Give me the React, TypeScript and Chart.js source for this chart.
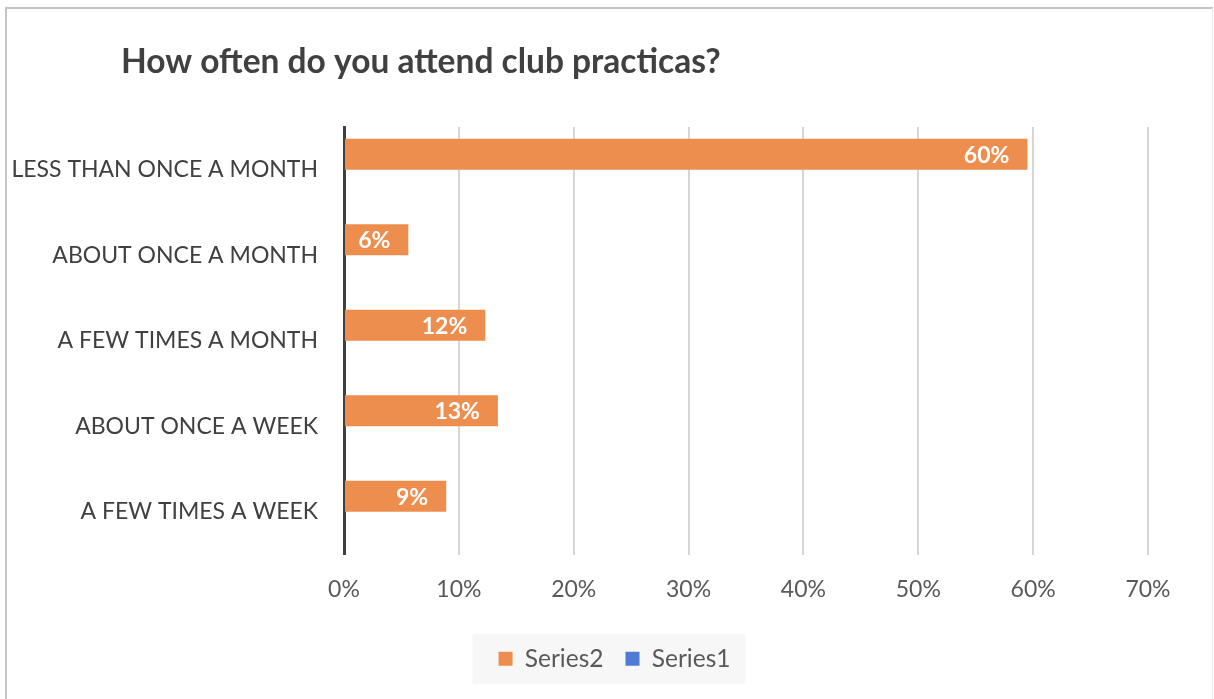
import React, { useEffect, useRef } from "react";
import { Chart, registerables } from "chart.js";

Chart.register(...registerables);

const TITLE = "How often do you attend club practicas?";
const categories = [
  "LESS THAN ONCE A MONTH",
  "ABOUT ONCE A MONTH",
  "A FEW TIMES A MONTH",
  "ABOUT ONCE A WEEK",
  "A FEW TIMES A WEEK",
];
const series2Values = [59.5, 5.6, 12.3, 13.4, 8.9];
const series1Values: (number | null)[] = [null, null, null, null, null];
const xTicksMax = 70;
const xTickStep = 10;

const FONT = "Lato, 'Open Sans', sans-serif";

const titlePlugin = {
  id: "leftTitle",
  afterDraw(chart: any) {
    const ctx = chart.ctx;
    ctx.save();
    ctx.font = `bold 33.5px ${FONT}`;
    ctx.fillStyle = "#404040";
    ctx.textAlign = "left";
    ctx.textBaseline = "middle";
    ctx.fillText(TITLE, 114, 53);
    ctx.restore();
  },
};

const legendShiftPlugin = {
  id: "legendShift",
  afterLayout(chart: any) {
    const lg = chart.legend;
    if (!lg) return;
    lg.left += 37;
    lg.right += 37;
  },
};

const legendBgPlugin = {
  id: "legendBg",
  beforeDraw(chart: any) {
    const lg = chart.legend;
    if (!lg || !lg.legendHitBoxes || !lg.legendHitBoxes.length) return;
    const boxes = lg.legendHitBoxes;
    const left = Math.min(...boxes.map((b: any) => b.left)) - 26;
    const right = Math.max(...boxes.map((b: any) => b.left + b.width)) + 15;
    const cy = boxes[0].top + boxes[0].height / 2;
    const ctx = chart.ctx;
    ctx.save();
    ctx.fillStyle = "#F7F7F7";
    ctx.fillRect(left, cy - 25, right - left, 50);
    ctx.restore();
  },
};

const dataLabelPlugin = {
  id: "barLabels",
  afterDatasetsDraw(chart: any) {
    const meta = chart.getDatasetMeta(0);
    const ctx = chart.ctx;
    ctx.save();
    ctx.font = `bold 23px ${FONT}`;
    ctx.fillStyle = "#FFFFFF";
    ctx.textAlign = "right";
    ctx.textBaseline = "middle";
    meta.data.forEach((bar: any, i: number) => {
      const v = series2Values[i];
      ctx.fillText(`${Math.round(v)}%`, bar.x - 18, bar.y + 1);
    });
    ctx.restore();
  },
};

export default function App() {
  const ref = useRef<HTMLCanvasElement | null>(null);

  useEffect(() => {
    if (!ref.current) return;
    const chart = new Chart(ref.current, {
      type: "bar",
      data: {
        labels: categories,
        datasets: [
          {
            label: "Series2",
            data: series2Values,
            backgroundColor: "#EE8E4E",
            borderWidth: 0,
          },
          {
            label: "Series1",
            data: series1Values,
            backgroundColor: "#4F7BD2",
            borderWidth: 0,
          },
        ],
      },
      options: {
        indexAxis: "y",
        animation: false,
        responsive: true,
        maintainAspectRatio: false,
        categoryPercentage: 0.724,
        barPercentage: 1,
        layout: { padding: { top: 118, right: 64, left: 0, bottom: 18 } },
        scales: {
          x: {
            min: 0,
            max: xTicksMax,
            ticks: {
              stepSize: xTickStep,
              callback: (v: any) => `${v}%`,
              color: "#595959",
              font: { family: FONT, size: 23 },
              padding: 21,
            },
            grid: { color: "#D6D6D6", lineWidth: 2, drawTicks: false },
            border: { display: false },
            afterFit: (s: any) => {
              s.height = 70;
            },
          },
          y: {
            ticks: {
              color: "#404040",
              font: { family: FONT, size: 23 },
              padding: 26,
            },
            grid: { display: false, drawTicks: false },
            border: { display: true, color: "#404040", width: 3 },
            afterFit: (s: any) => {
              s.width = 337;
            },
          },
        },
        plugins: {
          title: { display: false },
          tooltip: { enabled: false },
          legend: {
            position: "bottom",
            labels: {
              color: "#595959",
              font: { family: FONT, size: 24.5 },
              boxWidth: 14,
              boxHeight: 14,
              padding: 22,
            },
          },
        },
      },
      plugins: [legendShiftPlugin, legendBgPlugin, titlePlugin, dataLabelPlugin],
    });
    return () => chart.destroy();
  }, []);

  return (
    <div
      style={{
        position: "absolute",
        left: 5,
        top: 7,
        width: 1205,
        height: 690,
        borderTop: "2px solid #C4C4C4",
        borderLeft: "2px solid #C4C4C4",
        borderRight: "1px solid #EDEDED",
        background: "#FFFFFF",
      }}
    >
      <div style={{ position: "relative", width: 1205, height: 690 }}>
        <canvas ref={ref} />
      </div>
    </div>
  );
}
